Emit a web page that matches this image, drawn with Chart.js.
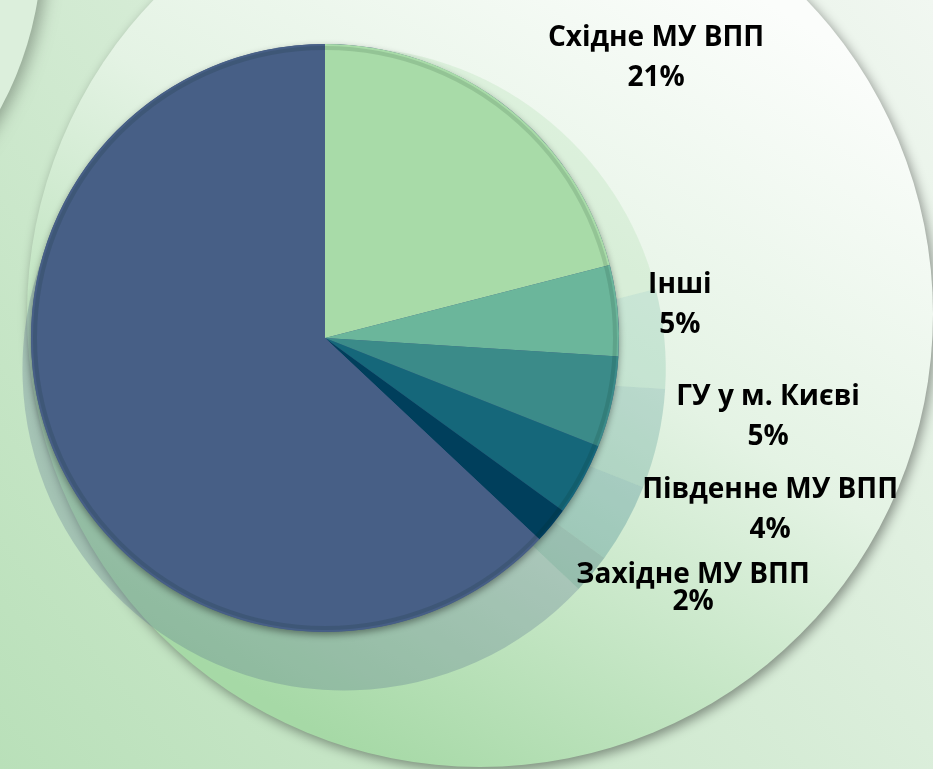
<!DOCTYPE html>
<html lang="uk">
<head>
<meta charset="utf-8">
<title>Розподіл за підрозділами</title>
<script src="https://cdn.jsdelivr.net/npm/chart.js@4.4.1/dist/chart.umd.min.js"></script>
<style>
    html, body { margin: 0; padding: 0; background: #dcefdc; }
    #wrap { width: 933px; height: 769px; position: relative; }
</style>
</head>
<body>
<div id="wrap"><canvas id="shareChart" width="933" height="769"></canvas></div>
<script>
// data
const regions = ['Східне МУ ВПП', 'Інші', 'ГУ у м. Києві', 'Південне МУ ВПП', 'Західне МУ ВПП', ''];
const shares = [21, 5, 5, 4, 2, 63];
const sliceColors = ['#a8dba8', '#6bb69b', '#3b8b89', '#15677a', '#003f5c', '#475f86'];

// label anchors, in pie radii from the centre (last slice has no label)
const labelAnchors = [[1.126, -0.952], [1.207, -0.112], [1.507, 0.269], [1.514, 0.585], [1.252, 0.853]];
const labelGaps = [40, 40, 40, 40, 27];

function withAlpha(hex, a) {
    const n = parseInt(hex.slice(1), 16);
    return `rgba(${n >> 16}, ${(n >> 8) & 255}, ${n & 255}, ${a})`;
}

// page background: soft green shapes
const backdrop = {
    id: 'backdrop',
    beforeDraw(chart) {
        const { ctx, width, height } = chart;
        ctx.save();
        let g = ctx.createLinearGradient(0, height, width, 0);
        g.addColorStop(0, '#b9e0b9');
        g.addColorStop(1, '#f1f7f1');
        ctx.fillStyle = g;
        ctx.fillRect(0, 0, width, height);

        // shape in the top left corner
        ctx.shadowColor = 'rgba(0, 0, 0, 0.3)';
        ctx.shadowBlur = 16;
        ctx.shadowOffsetX = 6;
        ctx.beginPath();
        ctx.arc(-300, -55, 342, 0, Math.PI * 2);
        ctx.fillStyle = '#dcefdc';
        ctx.fill();

        // large circle behind the pie
        ctx.shadowOffsetX = 3;
        ctx.shadowOffsetY = 4;
        ctx.shadowBlur = 12;
        ctx.shadowColor = 'rgba(0, 0, 0, 0.4)';
        g = ctx.createLinearGradient(830, 40, 380, 770);
        g.addColorStop(0, '#fbfdfb');
        g.addColorStop(0.45, '#e4f3e4');
        g.addColorStop(1, '#a6d9a6');
        ctx.beginPath();
        ctx.arc(480, 314, 453, 0, Math.PI * 2);
        ctx.fillStyle = g;
        ctx.fill();
        ctx.restore();
    }
};

// faded, shifted copy of the slices plus a shaded disc under the pie
const reflection = {
    id: 'reflection',
    beforeDatasetsDraw(chart) {
        const { ctx } = chart;
        const arcs = chart.getDatasetMeta(0).data;
        const cx = arcs[0].x, cy = arcs[0].y, r = arcs[0].outerRadius;
        const ox = cx + r * 0.065, oy = cy + r * 0.105, rr = r * 1.094;
        ctx.save();
        arcs.forEach((a, i) => {
            ctx.beginPath();
            ctx.moveTo(ox, oy);
            ctx.arc(ox, oy, rr, a.startAngle, a.endAngle);
            ctx.closePath();
            ctx.fillStyle = withAlpha(sliceColors[i], 0.25);
            ctx.fill();
        });
        ctx.shadowColor = 'rgba(0, 0, 0, 0.4)';
        ctx.shadowBlur = 7;
        ctx.shadowOffsetY = 3;
        ctx.beginPath();
        ctx.arc(cx, cy, r, 0, Math.PI * 2);
        ctx.fillStyle = sliceColors[5];
        ctx.fill();
        ctx.restore();
    },
    afterDatasetsDraw(chart) {
        const { ctx } = chart;
        const arcs = chart.getDatasetMeta(0).data;
        const cx = arcs[0].x, cy = arcs[0].y, r = arcs[0].outerRadius;
        ctx.save();
        // darker bevel near the rim
        ctx.beginPath();
        ctx.arc(cx, cy, r - 4, 0, Math.PI * 2);
        ctx.lineWidth = 4;
        ctx.strokeStyle = 'rgba(0, 30, 20, 0.12)';
        ctx.stroke();

        // labels
        ctx.fillStyle = '#000';
        ctx.textAlign = 'center';
        ctx.textBaseline = 'middle';
        ctx.font = 'bold 28px "Open Sans"';
        const total = shares.reduce((s, v) => s + v, 0);
        labelAnchors.forEach((p, i) => {
            const x = cx + p[0] * r, y = cy + p[1] * r;
            const pct = Math.round(shares[i] / total * 100) + '%';
            ctx.fillText(regions[i], x, y - labelGaps[i] / 2);
            ctx.fillText(pct, x, y + labelGaps[i] / 2);
        });
        ctx.restore();
    }
};

new Chart(document.getElementById('shareChart'), {
    type: 'pie',
    data: {
        labels: regions,
        datasets: [{
            data: shares,
            backgroundColor: sliceColors,
            borderWidth: 0
        }]
    },
    options: {
        responsive: false,
        animation: false,
        layout: { padding: { left: 31, right: 314, top: 44, bottom: 137 } },
        plugins: {
            legend: { display: false },
            tooltip: { enabled: false }
        }
    },
    plugins: [backdrop, reflection]
});
</script>
</body>
</html>
